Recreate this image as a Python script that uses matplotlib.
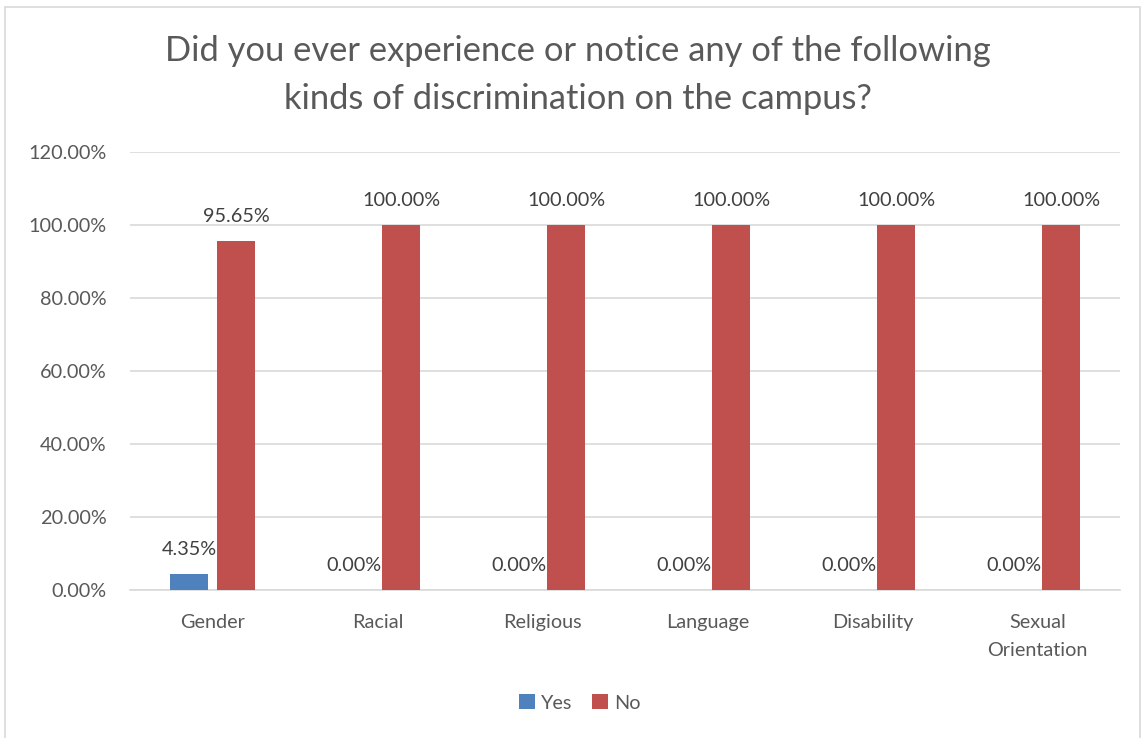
import matplotlib
matplotlib.use("Agg")
import matplotlib.pyplot as plt
from matplotlib.patches import Rectangle
import numpy as np

categories = ["Gender", "Racial", "Religious", "Language", "Disability", "Sexual\nOrientation"]
yes_vals = [4.35, 0.00, 0.00, 0.00, 0.00, 0.00]
no_vals = [95.65, 100.00, 100.00, 100.00, 100.00, 100.00]
yticks = [0, 20, 40, 60, 80, 100, 120]
title = "Did you ever experience or notice any of the following\nkinds of discrimination on the campus?"

plt.rcParams['font.family'] = ['Lato', 'DejaVu Sans']
TEXT = "#595959"
BLUE = "#4F81BD"
RED = "#C0504D"

fig = plt.figure(figsize=(11.42, 7.38), dpi=100)
fig.patches.append(Rectangle((5/1142, -0.01), (1140-5)/1142, (738-7)/738 + 0.01,
                             transform=fig.transFigure, fill=False, edgecolor="#D9D9D9", lw=1.2))
ax = fig.add_axes([130/1142, 148/738, (1120-130)/1142, (590-152)/738])

x = np.arange(len(categories))
w = 0.23
off = 0.142
b1 = ax.bar(x - off, yes_vals, w, color=BLUE, label="Yes", zorder=3)
b2 = ax.bar(x + off, no_vals, w, color=RED, label="No", zorder=3)

for bars, vals in ((b1, yes_vals), (b2, no_vals)):
    for r, v in zip(bars, vals):
        ax.annotate(f"{v:.2f}%", (r.get_x() + r.get_width()/2, v), xytext=(0, 11.5),
                    textcoords="offset points", ha="center", va="bottom",
                    fontsize=14.3, color="#404040", zorder=4)

ax.set_xlim(-0.5, len(categories) - 0.5)
ax.set_ylim(0, 120)
ax.set_yticks(yticks)
ax.set_yticklabels([f"{t:.2f}%" for t in yticks], fontsize=14.3, color=TEXT)
ax.set_xticks(x)
ax.set_xticklabels(categories, fontsize=14.3, color=TEXT, linespacing=1.8)
ax.tick_params(axis='both', length=0)
ax.tick_params(axis='x', pad=17)
ax.tick_params(axis='y', pad=17)
ax.grid(axis='y', color="#D9D9D9", lw=1.2, zorder=0)
for s in ["top", "right", "left"]:
    ax.spines[s].set_visible(False)
ax.spines["bottom"].set_color("#D9D9D9")
ax.spines["bottom"].set_linewidth(1.2)

fig.text(578/1142, 1 - 75/738, title, ha="center", va="center", fontsize=24.8,
         color=TEXT, linespacing=1.6)

leg = fig.legend(handles=[b1, b2], labels=["Yes", "No"], loc="center",
                 bbox_to_anchor=(580/1142, 1 - 703/738), ncol=2, frameon=False,
                 fontsize=14.3, handlelength=0.8, handleheight=0.8, columnspacing=1.0,
                 handletextpad=0.3)
for t in leg.get_texts():
    t.set_color(TEXT)

fig.savefig("out.png", dpi=100)
